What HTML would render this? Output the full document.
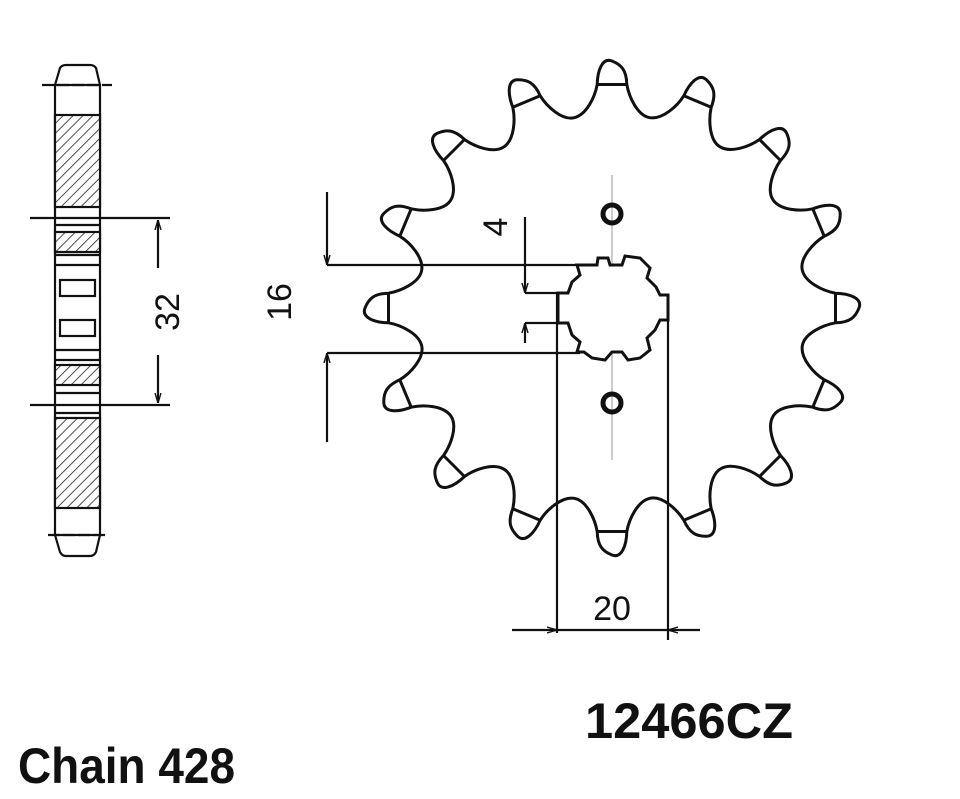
<!DOCTYPE html>
<html><head><meta charset="utf-8"><style>
html,body{margin:0;padding:0;background:#fff;}
svg{display:block;}
</style></head><body>
<svg id="s" width="960" height="799" viewBox="0 0 960 799" xmlns="http://www.w3.org/2000/svg">
<defs>
<pattern id="h" width="7" height="7" patternUnits="userSpaceOnUse" patternTransform="rotate(45)">
<rect width="7" height="7" fill="#fff"/><line x1="0" y1="0" x2="0" y2="7" stroke="#222" stroke-width="1.6"/>
</pattern>
<marker id="a" viewBox="0 0 10 10" refX="10" refY="5" markerWidth="10" markerHeight="10" orient="auto-start-reverse" markerUnits="userSpaceOnUse"><path d="M0,2 L10,5 L0,8" fill="none" stroke="#111" stroke-width="1.4"/></marker>
</defs>
<g id="spr" fill="none" stroke="#111" stroke-width="3"></g>
<line x1="612" y1="175" x2="612" y2="460" stroke="#bbb" stroke-width="1.5"/>
<line x1="585" y1="308" x2="655" y2="308" stroke="#bbb" stroke-width="1.5" stroke-dasharray="10,6"/>
<circle cx="612" cy="214" r="9" fill="none" stroke="#111" stroke-width="5"/>
<circle cx="612" cy="403" r="9" fill="none" stroke="#111" stroke-width="5"/>
<path d="M577,265 L597,265 L598,258 L608,258 L610,265 L622,265 L625,256 L640,258 L650,268 L647,278 L656,287 L660,295 L668,295 L668,320 L660,320 L655,330 L647,338 L650,350 L640,358 L628,360 L622,352 L612,352 L605,360 L592,358 L584,352 L577,352 L580,342 L572,335 L568,323 L558,323 L558,293 L568,293 L572,282 L580,275 Z" fill="#fff" stroke="#111" stroke-width="3"/>
<g stroke="#111" stroke-width="2.2" fill="none">
<line x1="327" y1="265" x2="580" y2="265"/>
<line x1="327" y1="353" x2="580" y2="353"/>
<line x1="327" y1="192" x2="327" y2="265" marker-end="url(#a)"/>
<line x1="327" y1="442" x2="327" y2="353" marker-end="url(#a)"/>
<line x1="525" y1="217" x2="525" y2="293" marker-end="url(#a)"/>
<line x1="525" y1="343" x2="525" y2="323" marker-end="url(#a)"/>
<line x1="525" y1="293" x2="560" y2="293"/>
<line x1="525" y1="323" x2="560" y2="323"/>
<line x1="557" y1="293" x2="557" y2="633"/>
<line x1="668" y1="300" x2="668" y2="640"/>
<line x1="512" y1="630" x2="557" y2="630" marker-end="url(#a)"/>
<line x1="700" y1="630" x2="668" y2="630" marker-end="url(#a)"/>
<line x1="557" y1="630" x2="668" y2="630"/>
</g>
<g font-family="Liberation Sans, sans-serif" font-size="34" fill="#111">
<text x="291" y="302" transform="rotate(-90 291 302)" text-anchor="middle">16</text>
<text x="507" y="227" transform="rotate(-90 507 227)" text-anchor="middle">4</text>
<text x="179" y="312" transform="rotate(-90 179 312)" text-anchor="middle">32</text>
<text x="612" y="620" text-anchor="middle">20</text>
</g>
<g stroke="#111" stroke-width="2.2">
<path d="M55,85 L60,68 Q62,65 66,65 L90,65 Q94,65 96,68 L100,85" fill="#fff"/>
<path d="M55,535 L60,552 Q62,556 66,556 L90,556 Q94,556 96,552 L100,535" fill="#fff"/>
<rect x="55" y="85" width="45" height="450" fill="#fff"/>
<rect x="55" y="115" width="45" height="92" fill="url(#h)"/>
<rect x="55" y="232" width="45" height="20" fill="url(#h)"/>
<rect x="55" y="365" width="45" height="20" fill="url(#h)"/>
<rect x="55" y="418" width="45" height="90" fill="url(#h)"/>
<line x1="55" y1="255" x2="100" y2="255"/>
<line x1="55" y1="265" x2="100" y2="265"/>
<rect x="60" y="280" width="35" height="16" fill="#fff"/>
<rect x="60" y="320" width="35" height="16" fill="#fff"/>
<line x1="55" y1="350" x2="100" y2="350"/>
<line x1="55" y1="360" x2="100" y2="360"/>
<line x1="55" y1="225" x2="100" y2="225"/>
<line x1="55" y1="393" x2="100" y2="393"/>
<line x1="55" y1="413" x2="100" y2="413"/>
<line x1="42" y1="85" x2="112" y2="85" stroke-dasharray="12,3"/>
<line x1="48" y1="535" x2="108" y2="535" stroke-dasharray="12,3"/>
<line x1="30" y1="218" x2="170" y2="218"/>
<line x1="30" y1="405" x2="170" y2="405"/>
<line x1="158" y1="268" x2="158" y2="220" marker-end="url(#a)"/>
<line x1="158" y1="355" x2="158" y2="403" marker-end="url(#a)"/>
</g>
<g font-family="Liberation Sans, sans-serif" font-weight="bold" font-size="50" fill="#111">
<text x="585" y="738" textLength="208" lengthAdjust="spacingAndGlyphs">12466CZ</text>
<text x="18" y="783" textLength="217" lengthAdjust="spacingAndGlyphs">Chain 428</text>
</g>
</svg>
<script>
(function(){
var cx=612,cy=308,rc=224,da=3.8,n=16,d="";
function P(r,deg){var t=deg*Math.PI/180;return (cx+r*Math.sin(t)).toFixed(1)+","+(cy-r*Math.cos(t)).toFixed(1);}
var tips="";
for(var i=0;i<n;i++){
 var a=i*22.5;
 if(i==0)d+="M"+P(rc,a-da);
 d+=" C"+P(rc+14,a-da+0.3)+" "+P(rc+27,a-2.2)+" "+P(rc+23,a);
 d+=" S"+P(rc+14,a+da-0.3)+" "+P(rc,a+da);
 d+=" C"+P(rc-12,a+da+0.8)+" "+P(194,a+7.5)+" "+P(194,a+11.25);
 d+=" S"+P(rc-12,a+22.5-da-0.8)+" "+P(rc,a+22.5-da);
 tips+='<line x1="'+P(rc,a-da).split(",")[0]+'" y1="'+P(rc,a-da).split(",")[1]+'" x2="'+P(rc,a+da).split(",")[0]+'" y2="'+P(rc,a+da).split(",")[1]+'"/>';
}
d+="Z";
document.getElementById("spr").innerHTML='<path d="'+d+'"/>'+tips;
})();
</script>
</body></html>
